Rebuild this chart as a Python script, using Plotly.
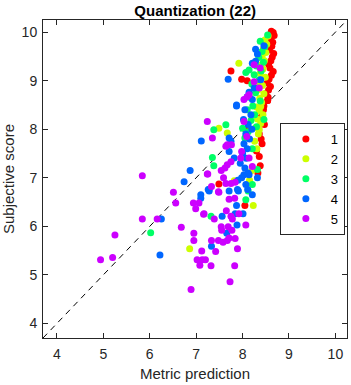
import plotly.graph_objects as go

# ---- data ----
s1_x = [8.62,8.66,8.68,8.60,8.65,8.63,8.58,8.67,8.64,8.61,8.56,8.59,8.66,8.62,8.57,8.53,8.60,8.56,8.50,8.55,8.54,
        8.45,8.40,8.47,8.36,8.42,8.30,8.38,8.33,
        7.75,7.98,8.10,8.07,8.46,8.36,7.49,8.05,8.54,8.40]
s1_y = [10.02,9.99,9.93,9.86,9.79,9.71,9.63,9.56,9.49,9.41,9.34,9.26,9.19,9.11,9.03,8.95,8.88,8.81,8.73,8.66,8.59,
        8.40,8.25,8.10,7.90,7.70,7.55,7.25,7.10,
        9.20,9.03,9.00,7.99,8.48,7.44,6.87,6.43,8.59,7.80]

s2_x = [8.55,8.48,8.52,8.45,8.50,8.42,8.47,8.40,8.44,8.38,8.49,8.35,8.43,8.33,8.46,8.37,8.41,8.30,8.36,8.44,
        8.32,8.39,8.28,8.34,8.26,8.31,
        7.92,7.49,7.67,7.82,8.23,6.86,8.36,8.39,8.20,8.15]
s2_y = [9.92,9.84,9.75,9.66,9.58,9.50,9.41,9.33,9.24,9.15,9.07,8.98,8.90,8.81,8.73,8.64,8.55,8.46,8.38,8.30,
        8.21,8.12,8.03,7.90,7.75,7.60,
        9.36,8.02,7.92,6.94,6.43,5.54,7.99,8.47,7.15,6.95]

s3_x = [8.54,8.38,8.48,8.42,8.35,8.45,8.30,8.40,8.25,8.36,8.20,8.32,8.28,8.15,8.38,8.22,8.10,8.26,8.18,8.30,
        8.12,8.05,8.21,8.32,8.46,
        8.07,8.14,7.64,7.38,7.35,7.38,7.32,6.02,8.07,8.12,8.00,8.21]
s3_y = [9.94,9.81,9.70,9.60,9.48,9.38,9.30,9.20,9.12,9.02,8.93,8.85,8.75,8.66,8.58,8.48,8.40,8.30,8.18,8.05,
        7.95,7.82,7.60,7.17,8.20,
        9.17,9.22,8.09,7.99,7.42,7.25,6.21,5.87,6.55,6.73,8.02,6.86]

s4_x = [8.28,8.32,8.46,8.21,8.28,8.14,8.10,7.87,8.21,8.39,8.05,8.18,8.25,8.02,8.12,8.20,8.07,8.15,8.03,8.10,
        8.00,8.08,7.95,8.05,8.12,7.98,8.03,8.14,7.90,8.07,8.11,7.89,8.32,7.87,
        7.69,7.11,7.71,7.75,7.71,7.82,7.28,6.87,6.74,7.10,7.10,6.25,6.22,7.26,7.33,7.66,7.28,7.91,8.21,8.01,
        7.84,7.56,7.88,7.71,7.87]
s4_y = [9.65,9.55,9.72,9.36,9.40,8.76,8.67,8.50,8.61,9.02,8.40,8.30,8.85,8.20,8.10,8.00,7.90,7.80,7.70,7.60,
        7.50,7.40,7.30,7.20,7.10,7.00,7.06,7.06,6.95,6.86,6.76,6.76,7.00,8.48,
        9.03,7.76,7.82,7.75,7.54,7.41,6.76,7.15,6.92,6.65,6.58,6.15,5.41,6.76,5.59,5.86,6.73,6.73,6.65,6.26,
        6.26,6.21,6.03,6.73,6.43]

s5_x = [8.25,8.38,8.25,8.36,8.14,8.03,8.10,
        7.24,7.35,7.67,7.76,7.64,8.03,8.09,7.98,7.96,8.14,7.67,7.75,7.62,7.54,7.25,7.59,7.33,7.64,7.75,7.84,
        8.21,7.48,7.49,7.71,7.83,7.17,7.39,7.65,7.75,7.78,7.92,8.07,7.54,7.69,7.55,7.77,7.33,7.48,7.58,7.67,
        7.71,7.84,7.42,7.89,7.32,7.83,7.73,6.89,7.24,5.84,6.51,6.56,5.84,6.16,5.25,4.94,5.20,6.68,6.95,6.95,
        7.12,7.02,7.13,7.20,7.08,6.94,7.06,6.99,7.16]
s5_y = [9.33,9.26,8.98,8.85,8.71,8.61,8.67,
        8.16,7.82,7.68,7.68,7.65,8.16,7.85,7.54,7.41,7.41,7.27,7.33,7.20,7.15,7.08,7.00,6.82,6.88,6.88,6.91,
        7.23,6.71,6.70,6.56,6.58,6.26,6.15,6.32,6.21,6.15,6.26,6.03,5.99,5.99,5.92,5.92,5.71,5.71,5.67,5.71,
        5.76,5.75,5.48,5.54,5.19,5.19,4.86,4.70,7.08,7.04,6.70,6.48,6.15,6.15,5.82,5.31,5.36,5.98,5.86,5.71,
        5.49,5.31,5.31,5.31,5.20,6.48,6.48,6.36,6.25]

series_names = ["1", "2", "3", "4", "5"]
series_x = [s1_x, s2_x, s3_x, s4_x, s5_x]
series_y = [s1_y, s2_y, s3_y, s4_y, s5_y]
colors = ["#FF0000", "#CCFF00", "#00FF66", "#0066FF", "#CC00FF"]

axis_range = [3.7, 10.25]
tick_vals = [4, 5, 6, 7, 8, 9, 10]

fig = go.Figure()

# identity (diagonal) reference line
fig.add_trace(go.Scatter(x=axis_range, y=axis_range, mode="lines",
                         line=dict(color="black", width=1, dash="6px,5px"),
                         showlegend=False, hoverinfo="skip"))

for name, xs, ys, c in zip(series_names, series_x, series_y, colors):
    fig.add_trace(go.Scatter(x=xs, y=ys, mode="markers", name=name,
                             marker=dict(color=c, size=7, line=dict(width=0))))

font_family = "Liberation Sans, Arial, sans-serif"
axcol = "#262626"

common_axis = dict(range=axis_range, tickvals=tick_vals, ticks="inside", ticklen=5,
                   tickcolor=axcol, showline=True, linecolor=axcol, linewidth=1,
                   mirror="allticks", showgrid=False, zeroline=False,
                   tickfont=dict(family=font_family, size=14, color=axcol))

fig.update_layout(
    width=351, height=385,
    margin=dict(l=43, r=4, t=20, b=47),
    plot_bgcolor="white", paper_bgcolor="white",
    title=dict(text="<b>Quantization (22)</b>", x=0.556, xanchor="center", y=0.973, yanchor="middle",
               font=dict(family=font_family, size=15, color="black")),
    xaxis=dict(title=dict(text="Metric prediction", standoff=7,
                          font=dict(family=font_family, size=15, color=axcol)),
               ticklabelstandoff=3, **common_axis),
    yaxis=dict(title=dict(text="Subjective score", standoff=3,
                          font=dict(family=font_family, size=15, color=axcol)),
               ticklabelstandoff=2, **common_axis),
    legend=dict(x=0.993, xanchor="right", y=0.5, yanchor="middle",
                bgcolor="white", bordercolor=axcol, borderwidth=1,
                font=dict(family=font_family, size=13, color="black"),
                itemsizing="trace", tracegroupgap=0, itemwidth=40),
    showlegend=True,
)

fig.write_html("out.html")
